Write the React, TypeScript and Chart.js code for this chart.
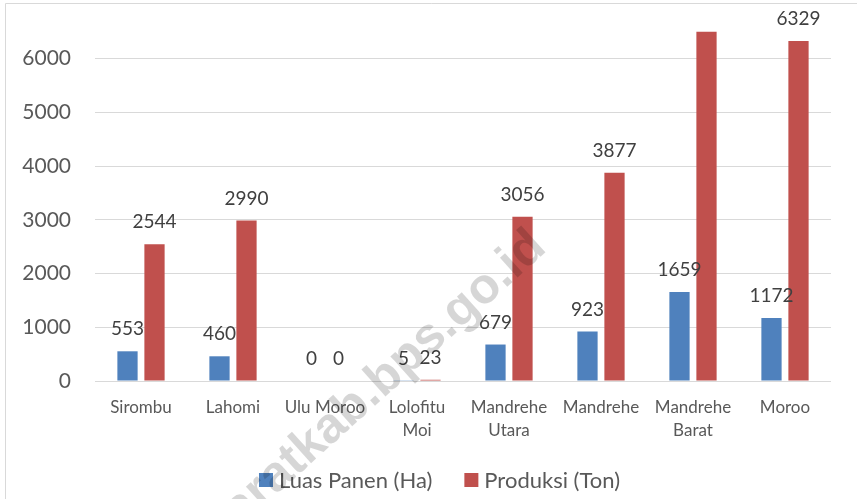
import React, { useEffect, useRef } from "react";
import { Chart, registerables } from "chart.js";

Chart.register(...registerables);

const categories: (string | string[])[] = [
  "Sirombu",
  "Lahomi",
  "Ulu Moroo",
  ["Lolofitu", "Moi"],
  ["Mandrehe", "Utara"],
  "Mandrehe",
  ["Mandrehe", "Barat"],
  "Moroo",
];
const luasPanen = [553, 460, 0, 5, 679, 923, 1659, 1172];
const produksi = [2544, 2990, 0, 23, 3056, 3877, 6503, 6329];
// labels shown above bars (null = not shown in the reference)
const luasPanenLabels: (string | null)[] = ["553", "460", "0", "5", "679", "923", "1659", "1172"];
const produksiLabels: (string | null)[] = ["2544", "2990", "0", "23", "3056", "3877", null, "6329"];
const yTicks = [0, 1000, 2000, 3000, 4000, 5000, 6000];
const seriesNames = ["Luas Panen (Ha)", "Produksi (Ton)"];
const seriesColors = ["#4f81bd", "#c0504d"];
const watermark = "niasbaratkab.bps.go.id";

const FONT = "Lato, 'Open Sans', sans-serif";

export default function App() {
  const ref = useRef<HTMLCanvasElement | null>(null);

  useEffect(() => {
    if (!ref.current) return;
    const labelSets = [luasPanenLabels, produksiLabels];

    const frame = {
      id: "frame",
      beforeDraw(chart: any) {
        const c = chart.ctx;
        c.save();
        c.strokeStyle = "#d9d9d9";
        c.lineWidth = 1;
        c.beginPath();
        c.moveTo(5.5, 499);
        c.lineTo(5.5, 3.5);
        c.lineTo(857, 3.5);
        c.stroke();
        c.restore();
      },
    };

    const dataLabels = {
      id: "dataLabels",
      afterDatasetsDraw(chart: any) {
        const c = chart.ctx;
        c.save();
        c.font = `19px ${FONT}`;
        c.fillStyle = "#404040";
        c.textAlign = "center";
        c.textBaseline = "middle";
        chart.data.datasets.forEach((_: any, di: number) => {
          const meta = chart.getDatasetMeta(di);
          meta.data.forEach((el: any, i: number) => {
            const txt = labelSets[di][i];
            if (txt == null) return;
            c.fillText(txt, el.x, el.y - 22);
          });
        });
        c.restore();
      },
    };

    const legend = {
      id: "customLegend",
      afterDraw(chart: any) {
        const c = chart.ctx;
        c.save();
        c.font = `22px ${FONT}`;
        c.textBaseline = "middle";
        c.textAlign = "left";
        const box = 14, gapText = 6, gapItem = 32;
        const widths = seriesNames.map((n) => box + gapText + c.measureText(n).width);
        const total = widths.reduce((a, b) => a + b, 0) + gapItem * (seriesNames.length - 1);
        let x = 439.5 - total / 2;
        const cy = 480;
        seriesNames.forEach((n, i) => {
          c.fillStyle = seriesColors[i];
          c.fillRect(x, cy - box / 2, box, box);
          c.fillStyle = "#595959";
          c.fillText(n, x + box + gapText, cy + 1);
          x += widths[i] + gapItem;
        });
        c.restore();
      },
    };

    const wm = {
      id: "watermark",
      afterDraw(chart: any) {
        const c = chart.ctx;
        c.save();
        c.translate(548, 250);
        c.rotate((-42 * Math.PI) / 180);
        c.font = `bold 50px 'Liberation Sans', Arial, sans-serif`;
        c.fillStyle = "rgba(0,0,0,0.16)";
        c.textAlign = "right";
        c.textBaseline = "alphabetic";
        c.fillText(watermark, 0, 0);
        c.restore();
      },
    };

    const chart = new Chart(ref.current, {
      type: "bar",
      data: {
        labels: categories as any,
        datasets: [
          {
            label: seriesNames[0],
            data: luasPanen,
            backgroundColor: seriesColors[0],
            categoryPercentage: 0.587,
            barPercentage: 0.75,
          },
          {
            label: seriesNames[1],
            data: produksi,
            backgroundColor: seriesColors[1],
            categoryPercentage: 0.587,
            barPercentage: 0.75,
          },
        ],
      },
      options: {
        animation: false,
        responsive: false,
        layout: { padding: { top: 5, right: 26, left: 0, bottom: 0 } },
        plugins: {
          legend: { display: false },
          tooltip: { enabled: false },
        },
        scales: {
          x: {
            grid: { display: false, drawTicks: false },
            border: { display: false },
            ticks: {
              color: "#595959",
              font: { family: FONT, size: 17, lineHeight: 1.35 },
              padding: 15,
              maxRotation: 0,
              autoSkip: false,
            },
            afterFit(s: any) {
              s.height = 118;
              s.paddingLeft = 0;
              s.paddingRight = 0;
            },
          },
          y: {
            min: 0,
            max: 7000,
            grid: { color: "#d9d9d9", drawTicks: false, lineWidth: 1 },
            border: { display: false },
            ticks: {
              stepSize: 1000,
              color: "#595959",
              font: { family: FONT, size: 21 },
              padding: 24,
              callback: (v: any) => String(v),
            },
            afterBuildTicks(s: any) {
              s.ticks = yTicks.map((v) => ({ value: v }));
            },
            afterFit(s: any) {
              s.width = 95;
              s.paddingTop = 0;
              s.paddingBottom = 0;
            },
          },
        },
      },
      plugins: [frame, dataLabels, legend, wm],
    });
    return () => chart.destroy();
  }, []);

  return (
    <div style={{ position: "absolute", left: 0, top: 0, width: 857, height: 499, background: "#fff" }}>
      <canvas ref={ref} width={857} height={499} style={{ display: "block" }} />
    </div>
  );
}
